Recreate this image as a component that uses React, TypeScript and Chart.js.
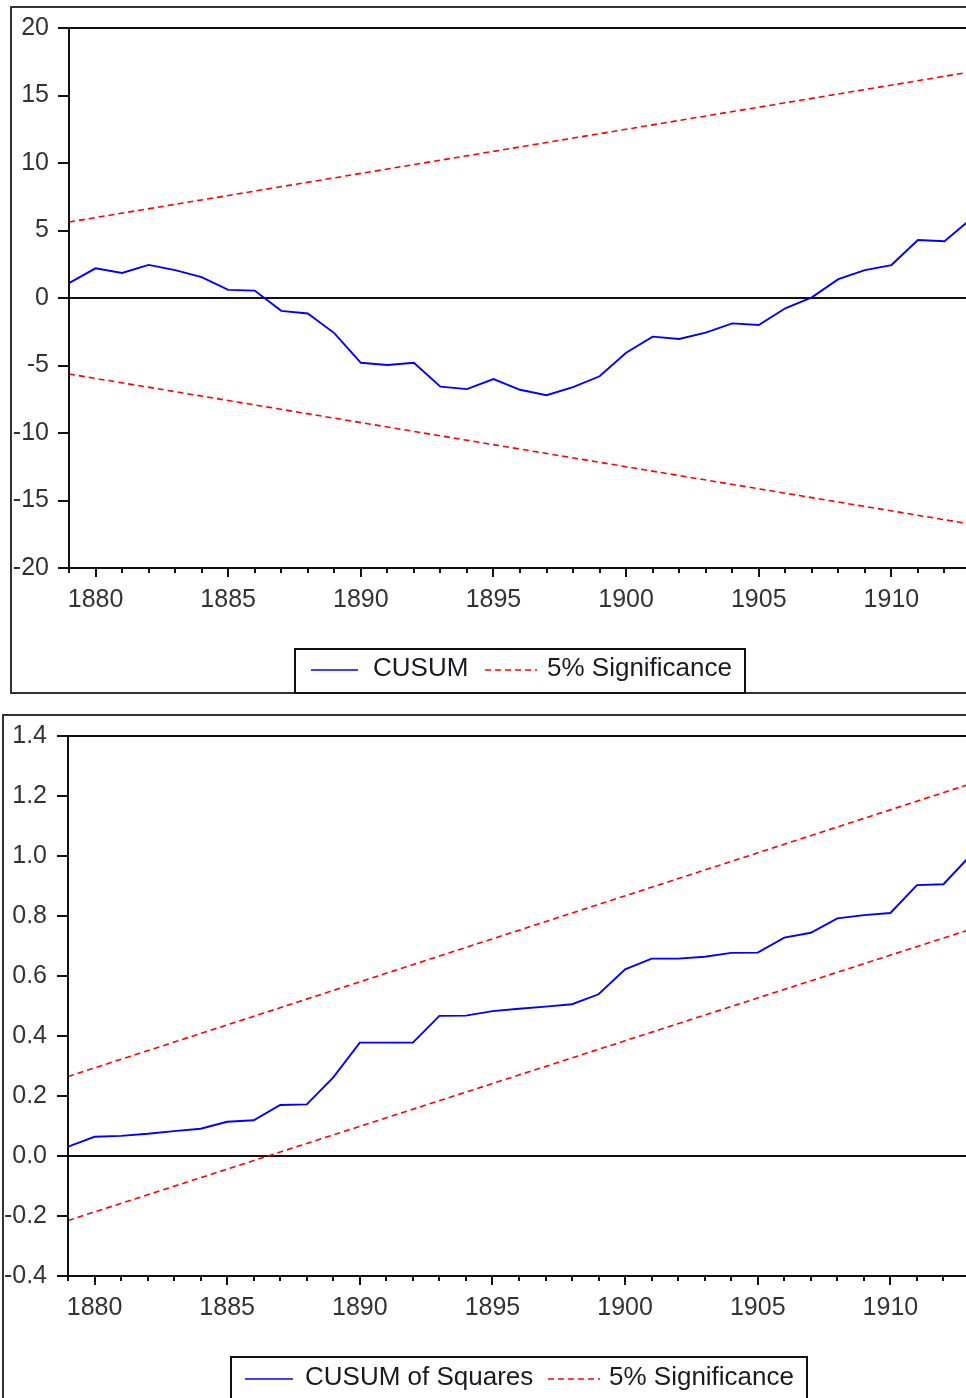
import React, { useEffect, useRef } from "react";
import { Chart, registerables } from "chart.js";

Chart.register(...registerables);

// ---- data ----
const years = [
  1879, 1880, 1881, 1882, 1883, 1884, 1885, 1886, 1887, 1888, 1889, 1890,
  1891, 1892, 1893, 1894, 1895, 1896, 1897, 1898, 1899, 1900, 1901, 1902,
  1903, 1904, 1905, 1906, 1907, 1908, 1909, 1910, 1911, 1912, 1913,
];
const cusum = [
  1.1, 2.2, 1.85, 2.45, 2.07, 1.55, 0.6, 0.55, -0.95, -1.15, -2.6, -4.8,
  -4.96, -4.8, -6.57, -6.75, -6.0, -6.8, -7.2, -6.6, -5.8, -4.05, -2.86, -3.04,
  -2.57, -1.88, -2.0, -0.76, 0.05, 1.4, 2.07, 2.44, 4.3, 4.2, 5.85,
];
const cusumSq = [
  0.031, 0.064, 0.067, 0.074, 0.083, 0.091, 0.114, 0.119, 0.17, 0.172, 0.262,
  0.378, 0.378, 0.378, 0.467, 0.468, 0.483, 0.491, 0.498, 0.506, 0.539, 0.622,
  0.658, 0.658, 0.664, 0.677, 0.678, 0.728, 0.744, 0.792, 0.803, 0.81, 0.903,
  0.906, 1.0,
];
const sigYears = [1879, 1913];
const cusumUpper = [5.63, 16.75];
const cusumLower = [-5.63, -16.75];
const sqUpper = [0.265, 1.24];
const sqLower = [-0.215, 0.755];

const cusumTicks = [-20, -15, -10, -5, 0, 5, 10, 15, 20];
const sqTicks = [-0.4, -0.2, 0.0, 0.2, 0.4, 0.6, 0.8, 1.0, 1.2, 1.4];

const FONT = '"Liberation Sans", Arial, sans-serif';
const BLUE = "#0000ff";
const RED = "#ff0000";

const pts = (xs: number[], ys: number[]) => xs.map((x, i) => ({ x, y: ys[i] }));

const panelPlugin = {
  id: "panel",
  beforeDatasetsDraw(chart: any) {
    const { ctx, chartArea: a, scales } = chart;
    const y0 = scales.y.getPixelForValue(0);
    ctx.save();
    ctx.strokeStyle = "#111";
    ctx.lineWidth = 2;
    ctx.beginPath();
    ctx.moveTo(a.left, Math.round(y0));
    ctx.lineTo(a.right, Math.round(y0));
    ctx.stroke();
    ctx.restore();
  },
  afterDraw(chart: any, _args: any, opts: any) {
    const { ctx, chartArea: a, scales } = chart;
    ctx.save();
    // plot box
    ctx.strokeStyle = "#111";
    ctx.lineWidth = 2;
    ctx.strokeRect(Math.round(a.left), Math.round(a.top), a.right - a.left, Math.round(a.bottom) - Math.round(a.top));
    // x tick marks
    const xs = scales.x;
    ctx.lineWidth = 2;
    for (const t of xs.ticks) {
      const px = Math.round(xs.getPixelForValue(t.value));
      const len = t.value % 5 === 0 ? 9 : 5;
      ctx.beginPath();
      ctx.moveTo(px, Math.round(a.bottom));
      ctx.lineTo(px, Math.round(a.bottom) + len);
      ctx.stroke();
    }
    // outer frame
    const f = opts.frame;
    ctx.strokeStyle = "#333";
    ctx.lineWidth = 2;
    ctx.strokeRect(f.x, f.y, f.w, f.h);
    // legend
    const L = opts.legend;
    ctx.fillStyle = "#fff";
    ctx.fillRect(L.x, L.y, L.w, L.h);
    ctx.strokeStyle = "#111";
    ctx.strokeRect(L.x, L.y, L.w, L.h);
    ctx.font = `26px ${FONT}`;
    ctx.textBaseline = "middle";
    ctx.textAlign = "left";
    for (const it of L.items) {
      const ds = chart.data.datasets[it.ds];
      ctx.strokeStyle = ds.borderColor;
      ctx.lineWidth = 1.6;
      ctx.setLineDash(ds.borderDash || []);
      ctx.beginPath();
      ctx.moveTo(it.x0, it.ly);
      ctx.lineTo(it.x1, it.ly);
      ctx.stroke();
      ctx.setLineDash([]);
      ctx.fillStyle = "#1a1a22";
      ctx.fillText(ds.label, it.tx, it.ty);
    }
    ctx.restore();
  },
};

function makeConfig(opts: {
  main: number[];
  mainLabel: string;
  upper: number[];
  lower: number[];
  yTicks: number[];
  fmt: (v: number) => string;
  padTop: number;
  padRight: number;
  yWidth: number;
  xHeight: number;
  yPad: number;
  frame: any;
  legend: any;
}): any {
  return {
    type: "line",
    data: {
      datasets: [
        {
          label: opts.mainLabel,
          data: pts(years, opts.main),
          borderColor: BLUE,
          borderWidth: 1.9,
          pointRadius: 0,
          tension: 0,
        },
        {
          label: "5% Significance",
          data: pts(sigYears, opts.upper),
          borderColor: RED,
          borderWidth: 1.6,
          borderDash: [6, 4],
          pointRadius: 0,
        },
        {
          label: "5% Significance",
          data: pts(sigYears, opts.lower),
          borderColor: RED,
          borderWidth: 1.6,
          borderDash: [6, 4],
          pointRadius: 0,
        },
      ],
    },
    options: {
      responsive: false,
      animation: false,
      events: [],
      layout: { padding: { left: 0, top: opts.padTop, right: opts.padRight, bottom: 0 } },
      plugins: {
        legend: { display: false },
        tooltip: { enabled: false },
        panel: { frame: opts.frame, legend: opts.legend },
      },
      scales: {
        x: {
          type: "linear",
          min: years[0],
          max: years[years.length - 1],
          grid: { display: false, drawTicks: false },
          border: { display: false },
          ticks: {
            stepSize: 1,
            autoSkip: false,
            maxRotation: 0,
            minRotation: 0,
            padding: 17,
            color: "#333",
            font: { family: FONT, size: 25 },
            callback: (v: number) => (v % 5 === 0 ? String(v) : ""),
          },
          afterFit: (s: any) => {
            s.height = opts.xHeight;
            s.paddingLeft = 0;
            s.paddingRight = 0;
          },
        },
        y: {
          type: "linear",
          min: opts.yTicks[0],
          max: opts.yTicks[opts.yTicks.length - 1],
          afterBuildTicks: (s: any) => {
            s.ticks = opts.yTicks.map((v) => ({ value: v }));
          },
          grid: {
            drawOnChartArea: false,
            drawTicks: true,
            tickLength: 11,
            color: "#111",
            lineWidth: 2,
          },
          border: { display: false },
          ticks: {
            padding: opts.yPad,
            color: "#333",
            font: { family: FONT, size: 25 },
            callback: (v: number) => opts.fmt(v),
          },
          afterFit: (s: any) => {
            s.width = opts.yWidth;
            s.paddingTop = 0;
            s.paddingBottom = 0;
          },
        },
      },
    },
    plugins: [panelPlugin],
  };
}

export default function App() {
  const ref1 = useRef<HTMLCanvasElement | null>(null);
  const ref2 = useRef<HTMLCanvasElement | null>(null);

  useEffect(() => {
    const c1 = new Chart(
      ref1.current as HTMLCanvasElement,
      makeConfig({
        main: cusum,
        mainLabel: "CUSUM",
        upper: cusumUpper,
        lower: cusumLower,
        yTicks: cusumTicks,
        fmt: (v) => String(Math.round(v)),
        padTop: 28,
        padRight: 9,
        yWidth: 69,
        xHeight: 137,
        yPad: 9,
        frame: { x: 11, y: 7, w: 1000, h: 686 },
        legend: {
          x: 295,
          y: 649,
          w: 450,
          h: 44,
          items: [
            { ds: 0, x0: 311, x1: 358, ly: 670, tx: 373, ty: 669 },
            { ds: 1, x0: 485, x1: 537, ly: 670, tx: 547, ty: 669 },
          ],
        },
      })
    );
    const c2 = new Chart(
      ref2.current as HTMLCanvasElement,
      makeConfig({
        main: cusumSq,
        mainLabel: "CUSUM of Squares",
        upper: sqUpper,
        lower: sqLower,
        yTicks: sqTicks,
        fmt: (v) => v.toFixed(1),
        padTop: 31,
        padRight: 10,
        yWidth: 68,
        xHeight: 122,
        yPad: 10,
        frame: { x: 3, y: 10, w: 1000, h: 800 },
        legend: {
          x: 231,
          y: 652,
          w: 576,
          h: 100,
          items: [
            { ds: 0, x0: 245, x1: 293, ly: 674, tx: 305, ty: 673 },
            { ds: 1, x0: 548, x1: 600, ly: 674, tx: 609, ty: 673 },
          ],
        },
      })
    );
    return () => {
      c1.destroy();
      c2.destroy();
    };
  }, []);

  return (
    <div
      style={{
        position: "absolute",
        left: 0,
        top: 0,
        width: 966,
        height: 1398,
        overflow: "hidden",
        background: "#fff",
      }}
    >
      <canvas
        ref={ref1}
        width={980}
        height={705}
        style={{ position: "absolute", left: 0, top: 0, width: 980, height: 705 }}
      />
      <canvas
        ref={ref2}
        width={980}
        height={693}
        style={{ position: "absolute", left: 0, top: 705, width: 980, height: 693 }}
      />
    </div>
  );
}
